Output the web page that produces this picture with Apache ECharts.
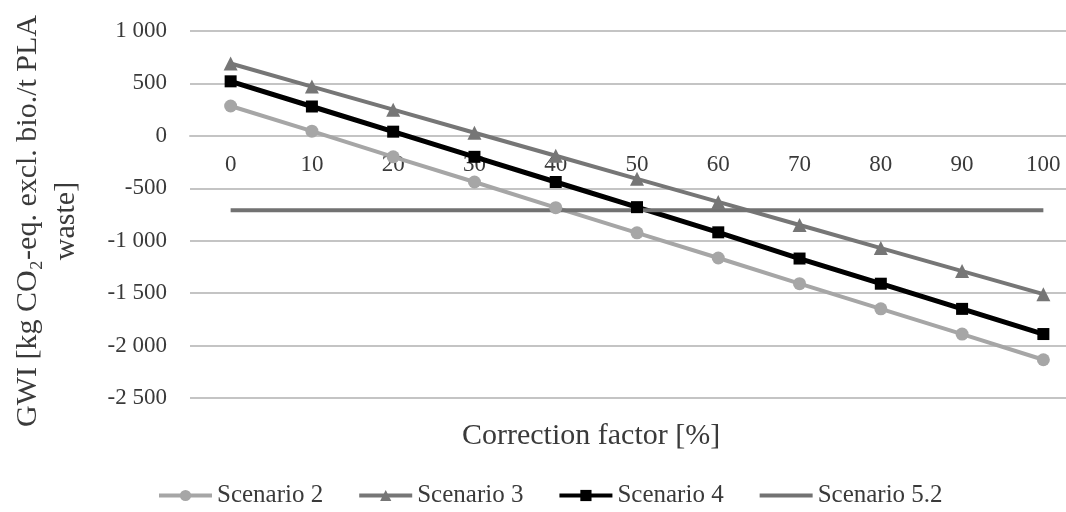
<!DOCTYPE html>
<html>
<head>
<meta charset="utf-8">
<script src="https://cdn.jsdelivr.net/npm/echarts@6/dist/echarts.min.js"></script>
<style>
html,body{margin:0;padding:0;background:#fff;}
#chart{width:1066px;height:512px;}
</style>
</head>
<body>
<div id="chart"></div>
<script>
var categories = ['0','10','20','30','40','50','60','70','80','90','100'];
var scenario2 = [285, 45, -200, -440, -685, -925, -1165, -1410, -1650, -1890, -2135];
var scenario3 = [690, 470, 250, 30, -190, -410, -630, -850, -1070, -1290, -1510];
var scenario4 = [520, 280, 40, -200, -440, -680, -920, -1170, -1410, -1650, -1890];
var scenario52 = [-710, -710, -710, -710, -710, -710, -710, -710, -710, -710, -710];
var seriesNames = ['Scenario 2', 'Scenario 3', 'Scenario 4', 'Scenario 5.2'];
var yTicks = {min: -2500, max: 1000, interval: 500};

var FONT = '"Liberation Serif", "Times New Roman", serif';
var TXT = '#3a3a3a';

function fmt(v) {
  var s = String(Math.abs(v));
  if (s.length > 3) s = s.slice(0, s.length - 3) + ' ' + s.slice(s.length - 3);
  return (v < 0 ? '-' : '') + s;
}

var gridTop = 31, gridHeight = 367;
// place the category axis on the value-axis zero line
var zeroOffset = -gridHeight * (0 - yTicks.min) / (yTicks.max - yTicks.min);

var chart = echarts.init(document.getElementById('chart'));
chart.setOption({
  animation: false,
  backgroundColor: '#ffffff',
  title: {
    text: 'Correction factor [%]',
    left: 462, top: 421, padding: 0,
    textStyle: {fontFamily: FONT, fontSize: 30, fontWeight: 'normal', color: TXT}
  },
  graphic: [{
    type: 'text',
    x: 47, y: 221,
    rotation: Math.PI / 2,
    style: {
      text: 'GWI [kg CO\u2082-eq. excl. bio./t PLA\nwaste]',
      font: '30px ' + FONT,
      fill: TXT,
      align: 'center',
      verticalAlign: 'middle',
      lineHeight: 38
    }
  }],
  legend: {
    left: 157, top: 483, padding: 0,
    itemWidth: 53, itemHeight: 14, itemGap: 34,
    lineStyle: {width: 4},
    data: [
      {name: seriesNames[0]},
      {name: seriesNames[1]},
      {name: seriesNames[2]},
      {name: seriesNames[3], itemStyle: {opacity: 0}}
    ],
    textStyle: {fontFamily: FONT, fontSize: 25, color: TXT}
  },
  grid: {left: 190, top: gridTop, width: 894, height: gridHeight, containLabel: false, outerBoundsMode: 'none'},
  xAxis: {
    type: 'category',
    data: categories,
    boundaryGap: true,
    position: 'bottom',
    offset: zeroOffset,
    axisLine: {onZero: false, lineStyle: {color: '#c4c4c4', width: 2}},
    axisTick: {show: false},
    axisLabel: {margin: 18, fontFamily: FONT, fontSize: 23, color: TXT, interval: 0},
    splitLine: {show: false}
  },
  yAxis: {
    type: 'value',
    min: yTicks.min, max: yTicks.max, interval: yTicks.interval,
    axisLine: {show: false},
    axisTick: {show: false},
    axisLabel: {margin: 23, fontFamily: FONT, fontSize: 23, color: TXT, formatter: fmt},
    splitLine: {lineStyle: {color: '#c4c4c4', width: 2}}
  },
  series: [
    {name: seriesNames[0], type: 'line', data: scenario2, symbol: 'circle', symbolSize: 13,
     lineStyle: {color: '#a6a6a6', width: 4}, itemStyle: {color: '#a6a6a6'}},
    {name: seriesNames[1], type: 'line', data: scenario3, symbol: 'triangle', symbolSize: 14,
     lineStyle: {color: '#767676', width: 4}, itemStyle: {color: '#767676'}},
    {name: seriesNames[2], type: 'line', data: scenario4, symbol: 'rect', symbolSize: 12,
     lineStyle: {color: '#000000', width: 5}, itemStyle: {color: '#000000'}},
    {name: seriesNames[3], type: 'line', data: scenario52, symbol: 'none', showSymbol: false,
     lineStyle: {color: '#727272', width: 4}, itemStyle: {color: '#8a8a8a'}}
  ]
});
</script>
</body>
</html>
